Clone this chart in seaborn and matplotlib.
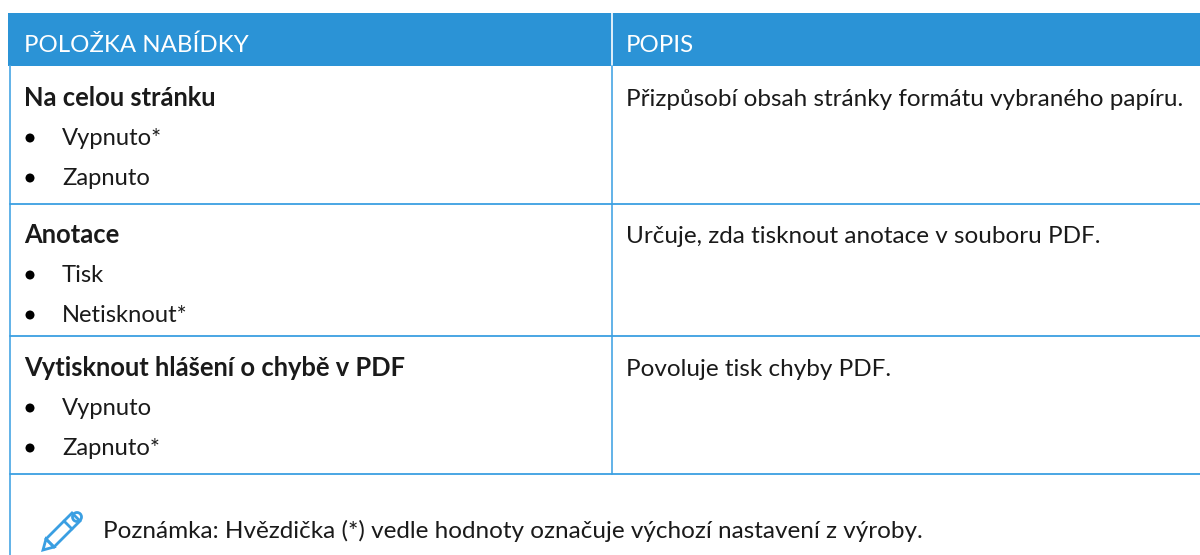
import matplotlib.pyplot as plt
from matplotlib.patches import Polygon, Circle, Rectangle
import seaborn as sns

# Contenido de la tabla
HEADERS = ["POLOŽKA NABÍDKY", "POPIS"]
ITEMS = ["Na celou stránku", "Anotace", "Vytisknout hlášení o chybě v PDF"]
OPTIONS = [["Vypnuto*", "Zapnuto"], ["Tisk", "Netisknout*"], ["Vypnuto", "Zapnuto*"]]
DESCRIPTIONS = [
    "Přizpůsobí obsah stránky formátu vybraného papíru.",
    "Určuje, zda tisknout anotace v souboru PDF.",
    "Povoluje tisk chyby PDF.",
]
NOTE = "Poznámka: Hvězdička (*) vedle hodnoty označuje výchozí nastavení z výroby."

# Colores
HEADER_BLUE = "#2b93d6"
LINE_BLUE = "#55ace6"
ROW_BLUE = "#3a9fe2"
TEXT = "#1a1a1a"

# Geometría en píxeles (líneas base del texto)
ROW_Y = [106, 243, 376]
ROW_LINES = [204, 336, 474]
STEP = 40
FS = 17.5
FS_HEAD = 17.3
FS_BOLD = 18.4
FS_OPT = 17.1

sns.set_theme(style="white")
plt.rcParams["font.family"] = ["Lato", "DejaVu Sans"]

fig = plt.figure(figsize=(12, 5.55), dpi=100)
ax = fig.add_axes([0, 0, 1, 1])
ax.set_xlim(0, 1200)
ax.set_ylim(555, 0)
ax.axis("off")

# Cabecera
ax.add_patch(Rectangle((8, 13), 1192, 53, color=HEADER_BLUE, lw=0))
ax.plot([612, 612], [13, 66], color="white", lw=1.2)
ax.text(24, 52, HEADERS[0], color="white", fontsize=FS_HEAD, va="baseline")
ax.text(626, 52, HEADERS[1], color="white", fontsize=FS_HEAD, va="baseline")

# Bordes
ax.plot([10, 10], [66, 555], color=LINE_BLUE, lw=1.3)
ax.plot([612, 612], [66, 474], color=LINE_BLUE, lw=1.3)
for y in ROW_LINES:
    ax.plot([10, 1200], [y, y], color=ROW_BLUE, lw=1.3)

# Filas
for y, item, opts, desc in zip(ROW_Y, ITEMS, OPTIONS, DESCRIPTIONS):
    ax.text(24, y, item, color=TEXT, fontsize=FS_BOLD, fontweight="bold", va="baseline")
    ax.text(626, y, desc, color=TEXT, fontsize=FS, va="baseline")
    for i, opt in enumerate(opts):
        yy = y - 1 + STEP * (i + 1)
        ax.add_patch(Circle((30, yy - 7), 4.5, color="black", lw=0))
        ax.text(62, yy, opt, color=TEXT, fontsize=FS_OPT, va="baseline")

# Nota con icono de lápiz
ax.text(103, 538, NOTE, color=TEXT, fontsize=FS, va="baseline")
ax.add_patch(Polygon([(54, 547), (46, 539), (72, 513), (80, 521)], fill=False,
                     edgecolor=ROW_BLUE, lw=2))
ax.add_patch(Polygon([(43, 550), (46, 539), (54, 547)], fill=False,
                     edgecolor=ROW_BLUE, lw=2))
ax.plot([64, 72], [521, 529], color=ROW_BLUE, lw=2)
ax.add_patch(Circle((77, 517), 4.5, fill=False, edgecolor=ROW_BLUE, lw=2))

fig.savefig("out.png", dpi=100)
